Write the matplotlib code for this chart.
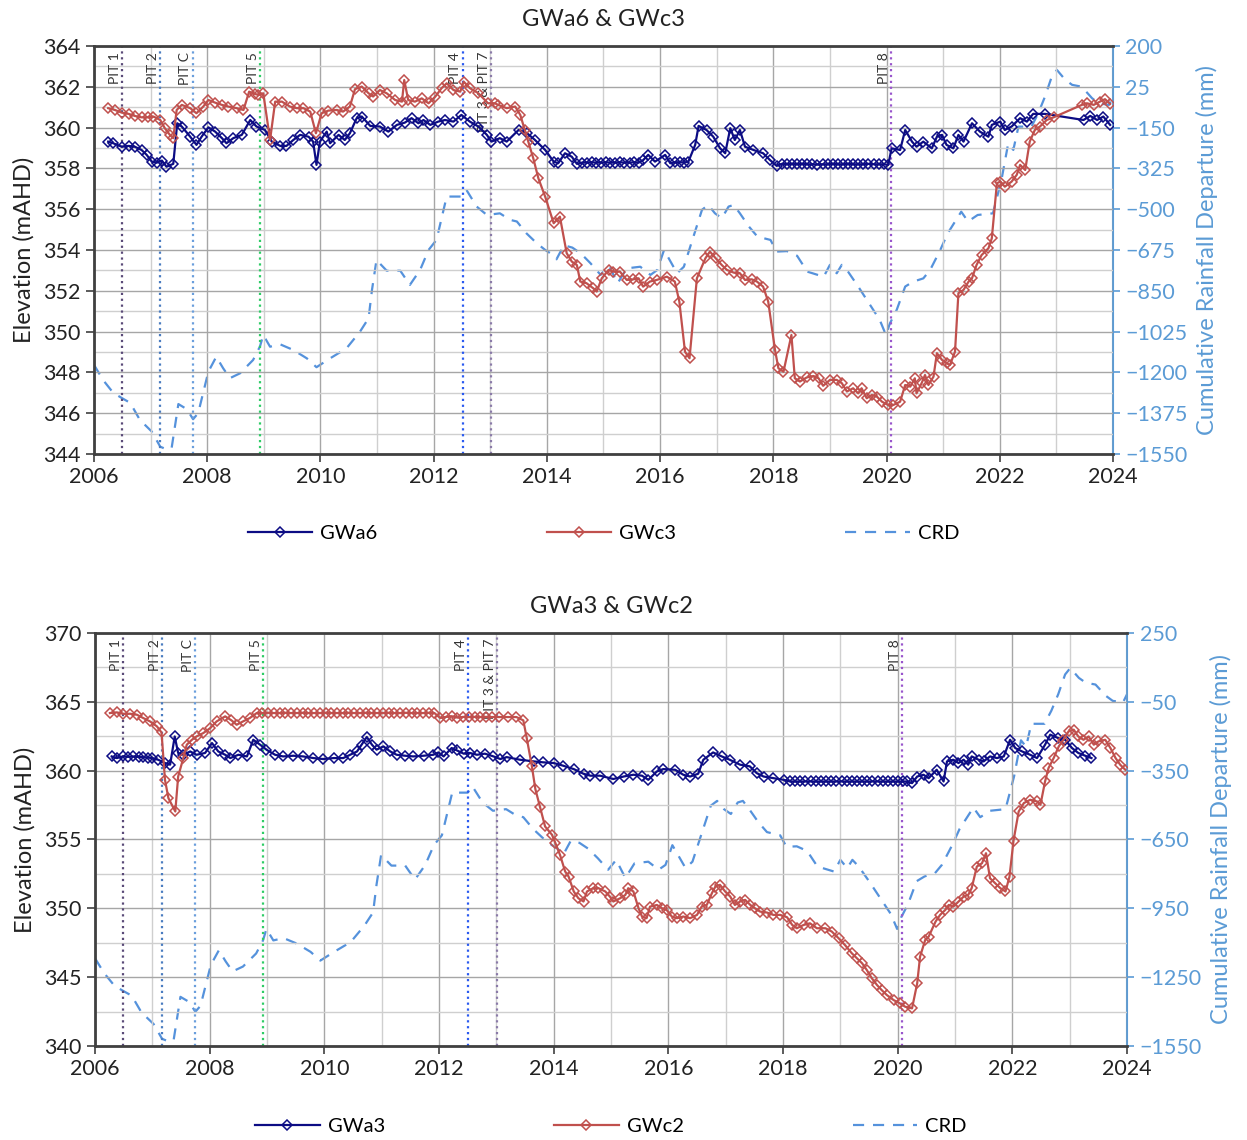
import numpy as np
import matplotlib
matplotlib.use('Agg')
import matplotlib.pyplot as plt
import matplotlib.transforms as mtransforms
from matplotlib.ticker import MultipleLocator

plt.rcParams['font.family'] = ['Lato', 'DejaVu Sans']

# cumulative rainfall departure (mm), shared by both panels
crd = [(2006.00, -1168), (2006.16, -1233), (2006.34, -1288), (2006.49, -1310), (2006.64, -1331),
       (2006.81, -1404), (2007.02, -1454), (2007.17, -1519), (2007.28, -1530), (2007.37, -1526),
       (2007.49, -1336), (2007.64, -1358), (2007.75, -1401), (2007.84, -1375), (2008.02, -1197),
       (2008.16, -1133), (2008.28, -1182), (2008.40, -1225), (2008.58, -1204), (2008.81, -1147),
       (2008.93, -1090), (2008.99, -1040), (2009.11, -1090), (2009.29, -1080), (2009.52, -1104),
       (2009.76, -1140), (2009.93, -1178), (2010.17, -1140), (2010.46, -1097), (2010.70, -1025),
       (2010.85, -968), (2010.91, -847), (2010.99, -718), (2011.17, -764), (2011.41, -764),
       (2011.58, -825), (2011.76, -761), (2011.91, -675), (2012.05, -632), (2012.23, -446),
       (2012.50, -446), (2012.58, -418), (2012.76, -489), (2012.94, -525), (2013.17, -518),
       (2013.35, -546), (2013.47, -553), (2013.64, -604), (2013.82, -646), (2013.97, -675),
       (2014.06, -689), (2014.17, -715), (2014.30, -655), (2014.45, -665), (2014.60, -690),
       (2014.77, -732), (2014.95, -782), (2015.09, -739), (2015.25, -818), (2015.41, -754),
       (2015.65, -747), (2015.83, -782), (2015.95, -761), (2016.07, -675), (2016.30, -775),
       (2016.42, -747), (2016.56, -640), (2016.74, -503), (2016.85, -482), (2016.97, -518),
       (2017.09, -539), (2017.21, -489), (2017.30, -482), (2017.41, -518), (2017.57, -575),
       (2017.72, -618), (2017.95, -632), (2018.06, -682), (2018.24, -680), (2018.42, -700),
       (2018.60, -768), (2018.89, -790), (2019.00, -739), (2019.12, -775), (2019.21, -739),
       (2019.32, -768), (2019.50, -832), (2019.71, -911), (2019.88, -975), (2019.99, -1040),
       (2020.06, -990), (2020.18, -932), (2020.33, -832), (2020.47, -811), (2020.65, -797),
       (2020.77, -761), (2020.89, -704), (2020.95, -675), (2021.08, -604), (2021.32, -511),
       (2021.44, -553), (2021.61, -525), (2021.88, -518), (2022.03, -375), (2022.15, -218),
       (2022.24, -246), (2022.33, -146), (2022.56, -146), (2022.68, -89), (2022.80, -17),
       (2022.92, 69), (2023.01, 97), (2023.16, 54), (2023.28, 33), (2023.45, 25),
       (2023.63, -24), (2023.75, -46), (2023.93, -53), (2024.00, -17)]

gwa6 = [(2006.25, 359.31), (2006.34, 359.23), (2006.49, 359.06), (2006.61, 359.10), (2006.72, 359.06),
        (2006.84, 358.90), (2006.93, 358.66), (2007.02, 358.33), (2007.11, 358.28), (2007.20, 358.38),
        (2007.28, 358.08), (2007.40, 358.22), (2007.47, 360.21), (2007.55, 360.05), (2007.70, 359.55),
        (2007.81, 359.15), (2007.90, 359.55), (2008.02, 360.01), (2008.14, 359.80), (2008.26, 359.48),
        (2008.34, 359.23), (2008.46, 359.48), (2008.61, 359.64), (2008.76, 360.37), (2008.87, 360.05),
        (2009.02, 359.88), (2009.14, 359.31), (2009.29, 359.10), (2009.40, 359.10), (2009.52, 359.39),
        (2009.64, 359.64), (2009.79, 359.55), (2009.87, 359.31), (2009.93, 358.17), (2009.99, 359.31),
        (2010.11, 359.80), (2010.17, 359.23), (2010.32, 359.64), (2010.43, 359.39), (2010.52, 359.72),
        (2010.64, 360.46), (2010.73, 360.54), (2010.88, 360.08), (2011.05, 360.05), (2011.20, 359.80),
        (2011.35, 360.13), (2011.49, 360.24), (2011.61, 360.46), (2011.73, 360.21), (2011.82, 360.37),
        (2011.94, 360.13), (2012.08, 360.29), (2012.20, 360.37), (2012.35, 360.29), (2012.49, 360.62),
        (2012.64, 360.29), (2012.79, 360.05), (2012.94, 359.64), (2013.02, 359.31), (2013.17, 359.48),
        (2013.29, 359.31), (2013.50, 359.88), (2013.65, 359.72), (2013.79, 359.39), (2013.97, 358.90),
        (2014.12, 358.33), (2014.20, 358.25), (2014.32, 358.74), (2014.44, 358.57), (2014.53, 358.22),
        (2014.62, 358.28), (2014.70, 358.28), (2014.79, 358.30), (2014.87, 358.28), (2014.96, 358.28),
        (2015.04, 358.30), (2015.12, 358.28), (2015.21, 358.28), (2015.29, 358.30), (2015.37, 358.28),
        (2015.46, 358.28), (2015.54, 358.30), (2015.62, 358.28), (2015.70, 358.40), (2015.79, 358.66),
        (2015.91, 358.33), (2016.09, 358.66), (2016.18, 358.25), (2016.27, 358.30), (2016.35, 358.30),
        (2016.43, 358.28), (2016.50, 358.33), (2016.62, 359.15), (2016.68, 360.08), (2016.82, 359.88),
        (2016.94, 359.55), (2017.06, 358.98), (2017.15, 358.74), (2017.24, 359.97), (2017.32, 359.39),
        (2017.41, 359.88), (2017.50, 359.06), (2017.65, 358.90), (2017.82, 358.74), (2017.94, 358.41),
        (2018.06, 358.12), (2018.15, 358.22), (2018.24, 358.20), (2018.33, 358.22), (2018.42, 358.20),
        (2018.51, 358.22), (2018.60, 358.20), (2018.69, 358.20), (2018.78, 358.18), (2018.87, 358.20),
        (2018.96, 358.20), (2019.05, 358.22), (2019.14, 358.20), (2019.23, 358.20), (2019.32, 358.22),
        (2019.41, 358.20), (2019.50, 358.20), (2019.59, 358.20), (2019.68, 358.22), (2019.77, 358.20),
        (2019.86, 358.20), (2019.95, 358.20), (2020.03, 358.17), (2020.09, 358.98), (2020.24, 358.90),
        (2020.33, 359.88), (2020.45, 359.31), (2020.53, 359.06), (2020.65, 359.31), (2020.80, 358.98),
        (2020.89, 359.55), (2020.98, 359.64), (2021.06, 359.15), (2021.18, 358.98), (2021.27, 359.64),
        (2021.36, 359.31), (2021.51, 360.21), (2021.65, 359.80), (2021.80, 359.55), (2021.86, 360.13),
        (2022.01, 360.29), (2022.09, 359.88), (2022.21, 360.05), (2022.36, 360.46), (2022.48, 360.29),
        (2022.59, 360.67), (2022.80, 360.67), (2023.48, 360.37), (2023.60, 360.57), (2023.72, 360.37),
        (2023.83, 360.54), (2023.95, 360.13)]

gwc3 = [(2006.25, 360.95), (2006.37, 360.86), (2006.49, 360.73), (2006.61, 360.67), (2006.72, 360.57),
        (2006.84, 360.50), (2006.96, 360.50), (2007.05, 360.54), (2007.17, 360.37), (2007.25, 359.97),
        (2007.34, 359.64), (2007.40, 359.48), (2007.46, 360.86), (2007.55, 361.11), (2007.70, 360.95),
        (2007.81, 360.70), (2007.93, 361.03), (2008.02, 361.35), (2008.14, 361.22), (2008.26, 361.11),
        (2008.37, 361.03), (2008.52, 360.95), (2008.64, 360.86), (2008.74, 361.76), (2008.84, 361.65),
        (2008.90, 361.60), (2008.99, 361.68), (2009.11, 359.39), (2009.20, 361.27), (2009.32, 361.27),
        (2009.46, 361.03), (2009.58, 360.95), (2009.70, 360.95), (2009.82, 360.78), (2009.92, 359.72),
        (2010.02, 360.70), (2010.14, 360.83), (2010.29, 360.86), (2010.40, 360.78), (2010.52, 361.03),
        (2010.61, 361.88), (2010.73, 362.01), (2010.85, 361.68), (2010.93, 361.52), (2011.05, 361.84),
        (2011.17, 361.68), (2011.32, 361.35), (2011.44, 361.27), (2011.48, 362.33), (2011.55, 361.35),
        (2011.67, 361.27), (2011.79, 361.43), (2011.91, 361.19), (2012.03, 361.52), (2012.14, 361.93),
        (2012.23, 362.17), (2012.35, 361.84), (2012.47, 361.76), (2012.53, 362.25), (2012.64, 361.93),
        (2012.79, 361.68), (2012.96, 361.19), (2013.08, 361.19), (2013.14, 361.11), (2013.29, 360.95),
        (2013.44, 361.03), (2013.53, 360.62), (2013.61, 359.88), (2013.67, 359.31), (2013.76, 358.49),
        (2013.85, 357.51), (2013.97, 356.61), (2014.12, 355.31), (2014.23, 355.63), (2014.35, 353.84),
        (2014.44, 353.43), (2014.53, 353.26), (2014.59, 352.45), (2014.70, 352.37), (2014.82, 352.12),
        (2014.88, 351.96), (2014.97, 352.61), (2015.09, 353.02), (2015.17, 352.94), (2015.29, 352.94),
        (2015.41, 352.53), (2015.53, 352.56), (2015.62, 352.61), (2015.70, 352.20), (2015.82, 352.45),
        (2015.94, 352.53), (2016.12, 352.69), (2016.26, 352.45), (2016.34, 351.47), (2016.44, 349.01),
        (2016.52, 348.69), (2016.65, 352.61), (2016.80, 353.59), (2016.88, 353.92), (2016.98, 353.60),
        (2017.09, 353.26), (2017.18, 353.02), (2017.30, 352.89), (2017.41, 352.86), (2017.50, 352.53),
        (2017.62, 352.56), (2017.71, 352.45), (2017.82, 352.20), (2017.91, 351.47), (2018.03, 349.10),
        (2018.09, 348.20), (2018.18, 348.03), (2018.32, 349.83), (2018.38, 347.71), (2018.47, 347.55),
        (2018.59, 347.75), (2018.71, 347.82), (2018.80, 347.71), (2018.88, 347.34), (2019.00, 347.63),
        (2019.12, 347.63), (2019.21, 347.47), (2019.30, 347.06), (2019.41, 347.22), (2019.50, 346.97),
        (2019.56, 347.22), (2019.65, 346.73), (2019.74, 346.89), (2019.83, 346.81), (2019.92, 346.56),
        (2020.03, 346.40), (2020.12, 346.40), (2020.24, 346.56), (2020.33, 347.38), (2020.42, 347.30),
        (2020.50, 347.71), (2020.53, 346.97), (2020.62, 347.47), (2020.68, 347.87), (2020.74, 347.38),
        (2020.83, 347.79), (2020.89, 348.94), (2020.98, 348.61), (2021.06, 348.45), (2021.12, 348.36),
        (2021.21, 349.01), (2021.27, 351.88), (2021.36, 352.04), (2021.45, 352.45), (2021.51, 352.61),
        (2021.59, 353.26), (2021.68, 353.75), (2021.80, 354.08), (2021.86, 354.57), (2021.95, 357.27),
        (2022.01, 357.35), (2022.09, 357.10), (2022.21, 357.35), (2022.30, 357.68), (2022.36, 358.17),
        (2022.45, 357.92), (2022.53, 359.31), (2022.62, 359.88), (2022.71, 360.05), (2022.83, 360.37),
        (2022.95, 360.50), (2023.45, 361.11), (2023.54, 361.19), (2023.66, 361.11), (2023.77, 361.27),
        (2023.86, 361.39), (2023.95, 361.16)]

gwa3 = [(2006.29, 361.03), (2006.38, 360.91), (2006.49, 361.03), (2006.58, 361.00), (2006.67, 361.03),
        (2006.76, 361.00), (2006.84, 360.98), (2006.92, 360.95), (2006.99, 360.91), (2007.10, 360.79),
        (2007.22, 360.55), (2007.31, 360.43), (2007.39, 362.48), (2007.45, 361.28), (2007.54, 361.15),
        (2007.66, 361.39), (2007.77, 361.15), (2007.92, 361.28), (2008.04, 362.00), (2008.15, 361.39),
        (2008.27, 361.15), (2008.36, 360.91), (2008.50, 361.15), (2008.65, 361.03), (2008.76, 362.24),
        (2008.88, 361.88), (2008.99, 361.52), (2009.14, 361.15), (2009.28, 361.03), (2009.46, 361.08),
        (2009.63, 361.03), (2009.81, 360.91), (2009.98, 360.84), (2010.16, 360.91), (2010.33, 360.91),
        (2010.45, 361.15), (2010.57, 361.39), (2010.65, 361.88), (2010.74, 362.44), (2010.83, 361.88),
        (2010.91, 361.52), (2011.03, 361.76), (2011.15, 361.39), (2011.26, 361.15), (2011.41, 361.08),
        (2011.55, 361.03), (2011.73, 361.08), (2011.90, 361.15), (2011.99, 361.32), (2012.08, 361.03),
        (2012.22, 361.64), (2012.31, 361.47), (2012.43, 361.23), (2012.54, 361.28), (2012.66, 361.15),
        (2012.80, 361.23), (2012.95, 361.03), (2013.07, 360.84), (2013.18, 360.98), (2013.41, 360.79),
        (2013.65, 360.67), (2013.82, 360.60), (2014.00, 360.55), (2014.17, 360.35), (2014.35, 360.11),
        (2014.52, 359.77), (2014.64, 359.63), (2014.81, 359.63), (2015.04, 359.39), (2015.22, 359.57),
        (2015.39, 359.70), (2015.54, 359.63), (2015.65, 359.33), (2015.80, 359.94), (2015.91, 360.11),
        (2016.12, 360.06), (2016.26, 359.70), (2016.38, 359.57), (2016.52, 359.77), (2016.61, 360.79),
        (2016.78, 361.32), (2016.93, 361.03), (2017.07, 360.79), (2017.25, 360.43), (2017.42, 360.31),
        (2017.54, 359.82), (2017.66, 359.57), (2017.83, 359.45), (2018.01, 359.33), (2018.12, 359.21),
        (2018.21, 359.21), (2018.30, 359.21), (2018.39, 359.21), (2018.48, 359.21), (2018.57, 359.21),
        (2018.66, 359.21), (2018.75, 359.21), (2018.84, 359.21), (2018.93, 359.21), (2019.02, 359.21),
        (2019.11, 359.21), (2019.20, 359.21), (2019.29, 359.21), (2019.38, 359.21), (2019.47, 359.21),
        (2019.56, 359.21), (2019.65, 359.21), (2019.74, 359.21), (2019.83, 359.21), (2019.92, 359.21),
        (2020.01, 359.21), (2020.10, 359.21), (2020.16, 359.21), (2020.25, 359.09), (2020.34, 359.57),
        (2020.45, 359.70), (2020.54, 359.45), (2020.68, 360.06), (2020.80, 359.21), (2020.86, 360.67),
        (2020.97, 360.79), (2021.06, 360.55), (2021.15, 360.79), (2021.23, 360.43), (2021.29, 361.03),
        (2021.41, 360.79), (2021.50, 360.67), (2021.61, 361.03), (2021.73, 360.91), (2021.85, 361.03),
        (2021.96, 362.24), (2022.05, 361.64), (2022.17, 361.39), (2022.31, 361.15), (2022.43, 360.91),
        (2022.57, 361.88), (2022.66, 362.61), (2022.80, 362.36), (2022.92, 362.24), (2023.04, 361.64),
        (2023.15, 361.28), (2023.27, 361.08), (2023.38, 360.91)]

gwc2 = [(2006.26, 364.18), (2006.38, 364.23), (2006.49, 364.13), (2006.61, 364.13), (2006.73, 364.06),
        (2006.84, 363.82), (2006.96, 363.57), (2007.08, 363.21), (2007.16, 362.77), (2007.22, 359.33),
        (2007.28, 358.00), (2007.40, 357.03), (2007.45, 359.57), (2007.54, 360.91), (2007.60, 361.88),
        (2007.69, 362.24), (2007.77, 362.48), (2007.89, 362.73), (2008.01, 363.09), (2008.12, 363.57),
        (2008.27, 363.94), (2008.38, 363.65), (2008.47, 363.33), (2008.58, 363.57), (2008.70, 363.82),
        (2008.82, 364.18), (2008.92, 364.18), (2009.02, 364.20), (2009.12, 364.18), (2009.22, 364.18),
        (2009.32, 364.20), (2009.42, 364.18), (2009.52, 364.18), (2009.62, 364.20), (2009.72, 364.18),
        (2009.82, 364.18), (2009.92, 364.18), (2010.02, 364.20), (2010.12, 364.18), (2010.22, 364.18),
        (2010.32, 364.18), (2010.42, 364.20), (2010.52, 364.18), (2010.62, 364.18), (2010.72, 364.20),
        (2010.82, 364.18), (2010.92, 364.18), (2011.02, 364.18), (2011.12, 364.20), (2011.22, 364.18),
        (2011.32, 364.18), (2011.42, 364.20), (2011.52, 364.18), (2011.62, 364.18), (2011.72, 364.18),
        (2011.82, 364.20), (2011.92, 364.18), (2012.02, 363.82), (2012.12, 363.90), (2012.22, 363.95),
        (2012.32, 363.85), (2012.42, 363.90), (2012.52, 363.89), (2012.62, 363.90), (2012.72, 363.89),
        (2012.82, 363.90), (2012.92, 363.89), (2013.05, 363.89), (2013.20, 363.89), (2013.35, 363.89),
        (2013.47, 363.65), (2013.53, 362.36), (2013.62, 360.30), (2013.68, 358.66), (2013.76, 357.39),
        (2013.85, 355.94), (2013.97, 355.34), (2014.03, 354.73), (2014.11, 353.88), (2014.20, 352.67),
        (2014.26, 352.30), (2014.35, 351.22), (2014.43, 350.73), (2014.52, 350.49), (2014.58, 351.22),
        (2014.69, 351.46), (2014.78, 351.46), (2014.90, 351.22), (2014.98, 350.85), (2015.04, 350.49),
        (2015.16, 350.73), (2015.25, 350.97), (2015.30, 351.46), (2015.39, 351.22), (2015.48, 350.00),
        (2015.54, 349.40), (2015.62, 349.28), (2015.68, 350.12), (2015.80, 350.24), (2015.89, 350.00),
        (2015.97, 349.88), (2016.06, 349.40), (2016.15, 349.28), (2016.26, 349.40), (2016.38, 349.28),
        (2016.50, 349.52), (2016.58, 350.12), (2016.67, 350.24), (2016.76, 351.10), (2016.82, 351.58),
        (2016.90, 351.70), (2016.99, 351.22), (2017.08, 350.85), (2017.16, 350.24), (2017.25, 350.49),
        (2017.34, 350.61), (2017.43, 350.24), (2017.51, 350.00), (2017.60, 349.76), (2017.72, 349.69),
        (2017.83, 349.52), (2017.95, 349.52), (2018.07, 349.35), (2018.16, 348.79), (2018.24, 348.55),
        (2018.36, 348.79), (2018.47, 348.91), (2018.59, 348.55), (2018.74, 348.55), (2018.85, 348.31),
        (2018.97, 347.82), (2019.08, 347.33), (2019.20, 346.73), (2019.29, 346.36), (2019.38, 346.00),
        (2019.46, 345.52), (2019.55, 344.91), (2019.64, 344.42), (2019.72, 344.06), (2019.81, 343.70),
        (2019.93, 343.33), (2020.04, 343.09), (2020.13, 342.85), (2020.25, 342.73), (2020.34, 344.55),
        (2020.39, 346.49), (2020.48, 347.70), (2020.54, 347.94), (2020.66, 349.03), (2020.74, 349.52),
        (2020.83, 349.88), (2020.89, 350.24), (2020.97, 350.12), (2021.06, 350.49), (2021.15, 350.85),
        (2021.23, 350.97), (2021.29, 351.46), (2021.38, 353.03), (2021.47, 353.27), (2021.54, 354.00),
        (2021.61, 352.18), (2021.70, 351.82), (2021.79, 351.46), (2021.88, 351.22), (2021.95, 352.30),
        (2022.02, 354.91), (2022.11, 357.03), (2022.20, 357.64), (2022.31, 357.88), (2022.43, 357.76),
        (2022.49, 357.52), (2022.57, 359.21), (2022.63, 360.18), (2022.72, 360.91), (2022.81, 361.76),
        (2022.89, 362.24), (2022.98, 362.85), (2023.07, 362.97), (2023.15, 362.48), (2023.24, 362.24),
        (2023.33, 362.48), (2023.42, 361.88), (2023.50, 362.12), (2023.62, 362.24), (2023.71, 361.64),
        (2023.80, 360.91), (2023.88, 360.43), (2023.97, 360.06)]

pit_names = ['PIT 1', 'PIT 2', 'PIT C', 'PIT 5', 'PIT 4', 'PIT 3 & PIT 7', 'PIT 8']
pit_years = [2006.49, 2007.17, 2007.74, 2008.93, 2012.51, 2013.01, 2020.08]
pit_colors = ['#5a4a78', '#4a7cc0', '#6a9edc', '#2ecc66', '#2a5af0', '#8a7aa8', '#9955cc']

NAVY = '#0c0c84'
RED = '#c0504d'
CRDC = '#5592dc'
RAXC = '#5b9bd5'
DARK = '#404040'


def panel(rect, title, a_name, a_data, c_name, c_data, ylim, ystep, yminor, rlim, rstep, leg_y):
    ax = fig.add_axes(rect)
    ax2 = ax.twinx()
    ax.set_zorder(ax2.get_zorder() + 1)
    ax.patch.set_visible(False)

    cx, cy = np.array(crd).T
    ln3, = ax2.plot(cx, cy, color=CRDC, lw=1.6, ls=(0, (5, 4)), label='CRD')
    ax2.set_ylim(*rlim)
    ax2.set_yticks(np.arange(rlim[0], rlim[1] + 1, rstep))
    ax2.tick_params(axis='y', colors=RAXC, labelsize=15.5, length=5, width=1.2, pad=4)
    ax2.spines['right'].set_color(RAXC)
    ax2.spines['right'].set_linewidth(1.5)
    for s in ['left', 'top', 'bottom']:
        ax2.spines[s].set_visible(False)
    ax2.set_ylabel('Cumulative Rainfall Departure (mm)', color=RAXC, fontsize=17, labelpad=6)

    ax.set_xlim(2006, 2024)
    ax.set_ylim(*ylim)
    ax.xaxis.set_major_locator(MultipleLocator(2))
    ax.xaxis.set_minor_locator(MultipleLocator(1))
    ax.yaxis.set_major_locator(MultipleLocator(ystep))
    ax.yaxis.set_minor_locator(MultipleLocator(yminor))
    ax.grid(which='major', color='#a6a6a6', lw=1.0)
    ax.grid(which='minor', color='#cfcfcf', lw=1.0)
    ax.set_axisbelow(True)
    ax.tick_params(axis='both', which='major', labelsize=15.5, length=6, width=1.2, colors=DARK,
                   labelcolor='#222222')
    ax.tick_params(axis='both', which='minor', length=0)
    ax.xaxis.set_major_formatter(matplotlib.ticker.FormatStrFormatter('%d'))
    for s in ['left', 'top', 'bottom']:
        ax.spines[s].set_color(DARK)
        ax.spines[s].set_linewidth(2)
    ax.spines['right'].set_visible(False)

    trans = mtransforms.blended_transform_factory(ax.transData, ax.transAxes)
    for name, yr, col in zip(pit_names, pit_years, pit_colors):
        ax.axvline(yr, color=col, ls=':', lw=1.6, zorder=1)
        ax.text(yr - 0.02, 0.985, name, transform=trans, rotation=90, ha='right', va='top',
                fontsize=10, color='#333333')

    ax_, ay = np.array(a_data).T
    rx, ry = np.array(c_data).T
    ln1, = ax.plot(ax_, ay, color=NAVY, lw=1.6, marker='D', ms=5.5, mfc='none', mew=1.1,
                   label=a_name, zorder=3)
    ln2, = ax.plot(rx, ry, color=RED, lw=1.6, marker='D', ms=5.5, mfc='none', mew=1.1,
                   label=c_name, zorder=3)

    ax.set_ylabel('Elevation (mAHD)', fontsize=17, color='#222222', labelpad=6)
    ax.set_title(title, fontsize=17, color='#222222', pad=14)
    ax.legend([ln1, ln2, ln3], [a_name, c_name, 'CRD'], loc='center', bbox_to_anchor=(0.5, leg_y),
              ncol=3, frameon=False, fontsize=14.5, handlelength=3.2, handletextpad=0.4,
              columnspacing=8.4)
    return ax


fig = plt.figure(figsize=(12.47, 11.40), dpi=100)
fig.patch.set_facecolor('white')

panel([0.0754, 0.6018, 0.8171, 0.3579], 'GWa6 & GWc3', 'GWa6', gwa6, 'GWc3', gwc3,
      (344, 364), 2, 1, (-1550, 200), 175, -0.196)
panel([0.0762, 0.0825, 0.8276, 0.3623], 'GWa3 & GWc2', 'GWa3', gwa3, 'GWc2', gwc2,
      (340, 370), 5, 2.5, (-1550, 250), 300, -0.194)

fig.savefig('out.png', dpi=100)
